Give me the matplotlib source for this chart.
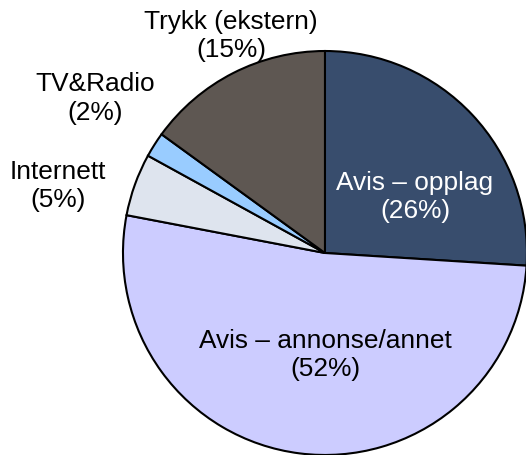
import matplotlib
matplotlib.use("Agg")
import matplotlib.pyplot as plt

labels = ["Avis – opplag", "Avis – annonse/annet", "Internett", "TV&Radio", "Trykk (ekstern)"]
shares = [26, 52, 5, 2, 15]
colors = ["#384D6D", "#CCCCFF", "#DEE4EE", "#99CCFF", "#5E5752"]
text_colors = ["white", "black", "black", "black", "black"]
# label centres in pie units (radius = 1)
label_pos = [(0.446, 0.282), (0.0, -0.5), (-1.322, 0.337), (-1.139, 0.77), (-0.465, 1.079)]

plt.rcParams['font.family'] = ['Liberation Sans', 'DejaVu Sans']

fig = plt.figure(figsize=(5.26, 4.56), dpi=100)
ax = fig.add_axes([0.2338, 0.0, 0.768, 0.886])

ax.pie(shares, colors=colors, startangle=90, counterclock=False, radius=1,
       wedgeprops=dict(edgecolor="black", linewidth=1.5))

for lab, val, (x, y), c in zip(labels, shares, label_pos, text_colors):
    ax.text(x, y, f"{lab}\n({val}%)", ha="center", va="center", fontsize=18.9,
            color=c, linespacing=1.22, clip_on=False)

ax.set_xlim(-1, 1)
ax.set_ylim(-1, 1)
ax.set_aspect("equal")
ax.axis("off")

fig.savefig("out.png", dpi=100)
